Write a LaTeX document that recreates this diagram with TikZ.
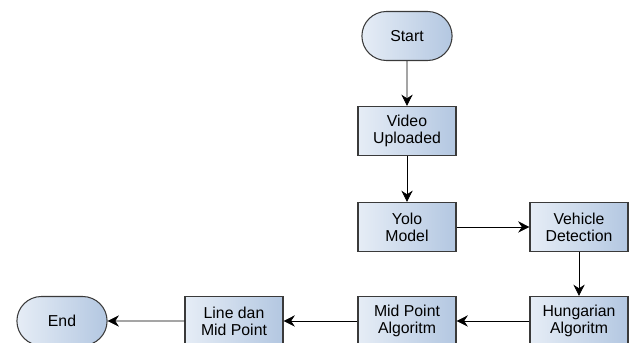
\documentclass[tikz,border=0pt]{standalone}
\usepackage{fontspec}
\setmainfont{Liberation Sans}
\usetikzlibrary{arrows.meta,shapes.misc}
\definecolor{boxlight}{HTML}{E6EDF6}
\definecolor{boxdark}{HTML}{B3C7E1}
\definecolor{boxline}{HTML}{3A3A3A}
\tikzset{
  procbox/.style={draw=boxline,line width=0.9pt,left color=boxlight,right color=boxdark,
    minimum width=2.94cm,minimum height=1.47cm,align=center,
    font=\fontsize{13.5}{14.5}\selectfont},
  termbox/.style={procbox,rounded rectangle},
  flow/.style={line width=0.6pt,-{Stealth[length=3.4mm,width=3.4mm]}}
}
\begin{document}
\begin{tikzpicture}
        \clip (0,0) rectangle (18.87,-10.29);
        \node[termbox] (start) at (12.21,-1.08) {Start};
        \node[procbox] (video) at (12.21,-3.93) {Video\\Uploaded};
        \node[procbox] (yolo) at (12.21,-6.81) {Yolo\\Model};
        \node[procbox] (vehicle) at (17.37,-6.81) {Vehicle\\Detection};
        \node[procbox] (hungarian) at (17.37,-9.63) {Hungarian\\Algoritm};
        \node[procbox] (midpoint) at (12.21,-9.63) {Mid Point\\Algoritm};
        \node[procbox] (linemid) at (7.02,-9.63) {Line dan\\Mid Point};
        \node[termbox] (end) at (1.86,-9.63) {End};
        \draw[flow] (start) -- (video);
        \draw[flow] (video) -- (yolo);
        \draw[flow] (yolo) -- (vehicle);
        \draw[flow] (vehicle) -- (hungarian);
        \draw[flow] (hungarian) -- (midpoint);
        \draw[flow] (midpoint) -- (linemid);
        \draw[flow] (linemid) -- (end);
\end{tikzpicture}
\end{document}
